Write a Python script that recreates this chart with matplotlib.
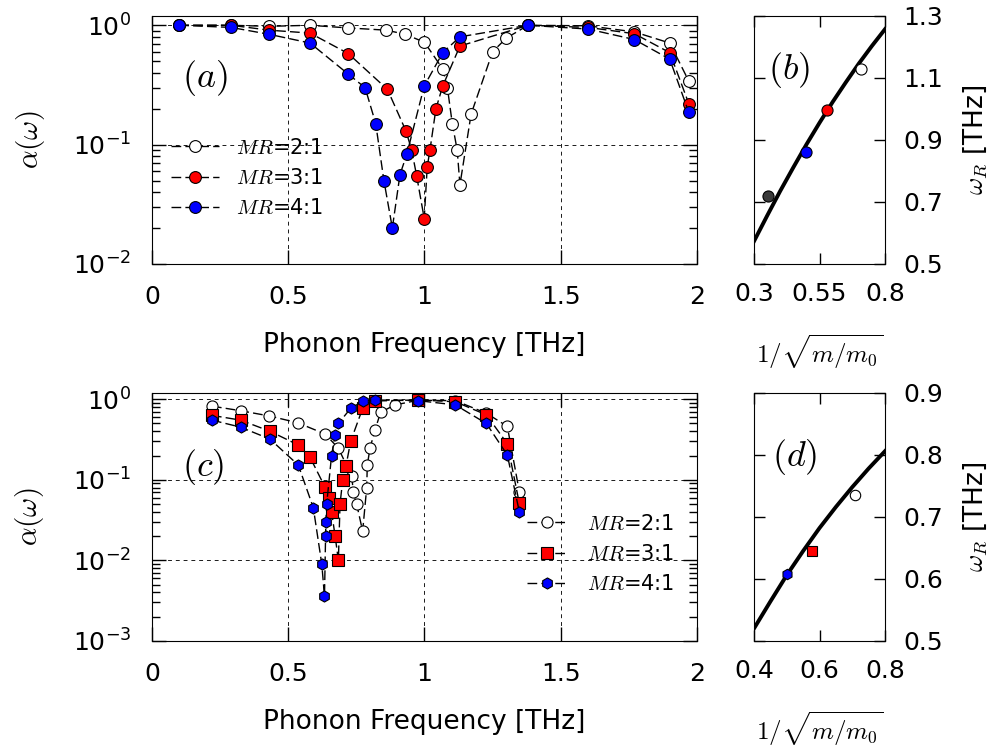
import numpy as np
import matplotlib
matplotlib.use('Agg')
import matplotlib.pyplot as plt

plt.rcParams['mathtext.fontset'] = 'cm'
plt.rcParams['font.family'] = ['DejaVu Sans']

# (a) transmission, frequency in THz
a2_x = [0.10, 0.29, 0.43, 0.58, 0.72, 0.86, 0.93, 1.00, 1.067, 1.084, 1.102, 1.120, 1.130, 1.171, 1.25, 1.30, 1.38, 1.60, 1.77, 1.90, 1.97]
a2_y = [1.0, 1.0, 0.98, 1.0, 0.95, 0.91, 0.84, 0.72, 0.43, 0.30, 0.150, 0.090, 0.046, 0.18, 0.60, 0.78, 1.0, 0.99, 0.88, 0.71, 0.34]
a3_x = [0.10, 0.29, 0.43, 0.58, 0.72, 0.864, 0.932, 0.953, 0.971, 0.999, 1.010, 1.020, 1.042, 1.067, 1.130, 1.38, 1.60, 1.77, 1.90, 1.97]
a3_y = [1.0, 1.0, 0.91, 0.86, 0.58, 0.29, 0.13, 0.090, 0.055, 0.024, 0.065, 0.090, 0.20, 0.31, 0.67, 1.0, 0.96, 0.85, 0.59, 0.22]
a4_x = [0.10, 0.29, 0.43, 0.58, 0.72, 0.782, 0.821, 0.851, 0.882, 0.910, 0.935, 0.999, 1.067, 1.130, 1.38, 1.60, 1.77, 1.90, 1.97]
a4_y = [1.0, 0.96, 0.84, 0.71, 0.39, 0.30, 0.150, 0.050, 0.020, 0.056, 0.083, 0.31, 0.59, 0.80, 1.0, 0.93, 0.76, 0.52, 0.186]

# (c)
c2_x = [0.22, 0.325, 0.43, 0.535, 0.635, 0.684, 0.733, 0.739, 0.751, 0.773, 0.788, 0.790, 0.800, 0.818, 0.839, 0.892, 0.977, 1.113, 1.227, 1.304, 1.348]
c2_y = [0.82, 0.72, 0.62, 0.51, 0.37, 0.247, 0.110, 0.070, 0.050, 0.023, 0.080, 0.151, 0.247, 0.41, 0.69, 0.85, 0.97, 0.96, 0.67, 0.46, 0.071]
c3_x = [0.22, 0.325, 0.433, 0.537, 0.58, 0.635, 0.651, 0.659, 0.672, 0.684, 0.690, 0.700, 0.712, 0.729, 0.773, 0.818, 0.977, 1.113, 1.227, 1.304, 1.348]
c3_y = [0.63, 0.55, 0.40, 0.27, 0.19, 0.081, 0.060, 0.040, 0.020, 0.010, 0.050, 0.100, 0.149, 0.30, 0.77, 0.95, 0.98, 0.93, 0.64, 0.28, 0.051]
c4_x = [0.22, 0.325, 0.433, 0.537, 0.592, 0.623, 0.633, 0.637, 0.638, 0.641, 0.659, 0.672, 0.684, 0.729, 0.773, 0.818, 0.977, 1.113, 1.227, 1.304, 1.348]
c4_y = [0.55, 0.45, 0.32, 0.152, 0.045, 0.009, 0.0036, 0.020, 0.030, 0.050, 0.20, 0.36, 0.50, 0.77, 0.94, 0.98, 0.96, 0.85, 0.50, 0.203, 0.040]

labels = [r'$MR$=2:1', r'$MR$=3:1', r'$MR$=4:1']

# (b) resonance vs 1/sqrt(m/m0)
b_x = [0.354, 0.50, 0.577, 0.707]
b_y = [0.72, 0.86, 0.996, 1.128]
b_col = ['#3a3a3a', 'blue', 'red', 'white']
b_fit_x = [0.30, 0.35, 0.40, 0.45, 0.50, 0.55, 0.60, 0.65, 0.70, 0.75, 0.80]
b_fit_y = [0.573, 0.655, 0.735, 0.811, 0.885, 0.955, 1.022, 1.085, 1.146, 1.203, 1.257]

# (d)
d_x = [0.501, 0.578, 0.709]
d_y = [0.608, 0.645, 0.736]
d_mk = ['h', 's', 'o']
d_col = ['blue', 'red', 'white']
d_fit_x = [0.40, 0.45, 0.50, 0.55, 0.60, 0.65, 0.70, 0.75, 0.80]
d_fit_y = [0.520, 0.5635, 0.606, 0.645, 0.682, 0.716, 0.748, 0.778, 0.806]

fig = plt.figure(figsize=(9.98, 7.54), dpi=100)
ax_a = fig.add_axes([0.1523, 0.650, 0.5461, 0.329])
ax_b = fig.add_axes([0.7555, 0.650, 0.1313, 0.329])
ax_c = fig.add_axes([0.1523, 0.150, 0.5461, 0.329])
ax_d = fig.add_axes([0.7555, 0.150, 0.1313, 0.329])

dash = (7, 3)
grid_ls = (0, (4, 4))


def style_main(ax):
    ax.set_yscale('log')
    ax.set_xlim(0, 2)
    ax.set_xticks([0, 0.5, 1, 1.5, 2])
    ax.set_xticklabels(['0', '0.5', '1', '1.5', '2'])
    ax.grid(True, which='major', ls=grid_ls, lw=0.7, color='0.1')
    ax.tick_params(which='major', direction='in', length=10, width=1, top=True, right=True,
                   labelsize=18, pad=15)
    ax.tick_params(which='minor', direction='in', length=6, width=1, top=True, right=True)
    ax.set_xlabel('Phonon Frequency [THz]', fontsize=19, labelpad=17)
    ax.set_ylabel(r'$\alpha(\omega)$', fontsize=21, labelpad=19)


def style_side(ax):
    ax.tick_params(which='major', direction='in', length=8, width=1, top=True, right=True,
                   left=True, labelleft=False, labelright=True, labelsize=18, pad=13)
    ax.yaxis.set_label_position('right')
    ax.set_ylabel(r'$\omega_R$ [THz]', fontsize=19, labelpad=13)
    ax.set_xlabel(r'$1/\sqrt{m/m_0}$', fontsize=18, labelpad=19)


# (a)
for xs, ys, fc, lab in zip([a2_x, a3_x, a4_x], [a2_y, a3_y, a4_y], ['white', 'red', 'blue'], labels):
    ax_a.plot(xs, ys, ls='--', dashes=dash, color='black', lw=1, marker='o', ms=8.5,
              mfc=fc, mec='black', mew=0.8, label=lab)
style_main(ax_a)
ax_a.set_ylim(0.01, 1.2)
ax_a.text(0.097, 0.75, r'$(a)$', transform=ax_a.transAxes, fontsize=26, ha='center', va='center')
ax_a.legend(loc='center left', bbox_to_anchor=(0.02, 0.346), frameon=False, fontsize=15,
            handlelength=2.3, handletextpad=0.8, labelspacing=0.5, numpoints=1, borderaxespad=0)

# (c)
for xs, ys, fc, mk, lab in zip([c2_x, c3_x, c4_x], [c2_y, c3_y, c4_y], ['white', 'red', 'blue'],
                               ['o', 's', 'h'], labels):
    ax_c.plot(xs, ys, ls='--', dashes=dash, color='black', lw=1, marker=mk, ms=8,
              mfc=fc, mec='black', mew=0.8, label=lab)
style_main(ax_c)
ax_c.set_ylim(0.001, 1.2)
ax_c.text(0.094, 0.70, r'$(c)$', transform=ax_c.transAxes, fontsize=26, ha='center', va='center')
ax_c.legend(loc='center left', bbox_to_anchor=(0.672, 0.35), frameon=False, fontsize=15,
            handlelength=2.0, handletextpad=0.9, labelspacing=0.5, numpoints=1, borderaxespad=0)

# (b)
ax_b.plot(b_fit_x, b_fit_y, color='black', lw=2.8)
for x, y, c in zip(b_x, b_y, b_col):
    ax_b.plot(x, y, 'o', ms=8, mfc=c, mec='black', mew=0.8)
ax_b.set_xlim(0.3, 0.8)
ax_b.set_ylim(0.5, 1.3)
ax_b.set_xticks([0.3, 0.55, 0.8])
ax_b.set_xticklabels(['0.3', '0.55', '0.8'])
ax_b.set_yticks([0.5, 0.7, 0.9, 1.1, 1.3])
style_side(ax_b)
ax_b.text(0.27, 0.78, r'$(b)$', transform=ax_b.transAxes, fontsize=26, ha='center', va='center')

# (d)
ax_d.plot(d_fit_x, d_fit_y, color='black', lw=2.8)
for x, y, m, c in zip(d_x, d_y, d_mk, d_col):
    ax_d.plot(x, y, m, ms=7.5, mfc=c, mec='black', mew=0.8)
ax_d.set_xlim(0.4, 0.8)
ax_d.set_ylim(0.5, 0.9)
ax_d.set_xticks([0.4, 0.6, 0.8])
ax_d.set_xticklabels(['0.4', '0.6', '0.8'])
ax_d.set_yticks([0.5, 0.6, 0.7, 0.8, 0.9])
style_side(ax_d)
ax_d.text(0.31, 0.74, r'$(d)$', transform=ax_d.transAxes, fontsize=26, ha='center', va='center')

fig.savefig('out.png', dpi=100)
